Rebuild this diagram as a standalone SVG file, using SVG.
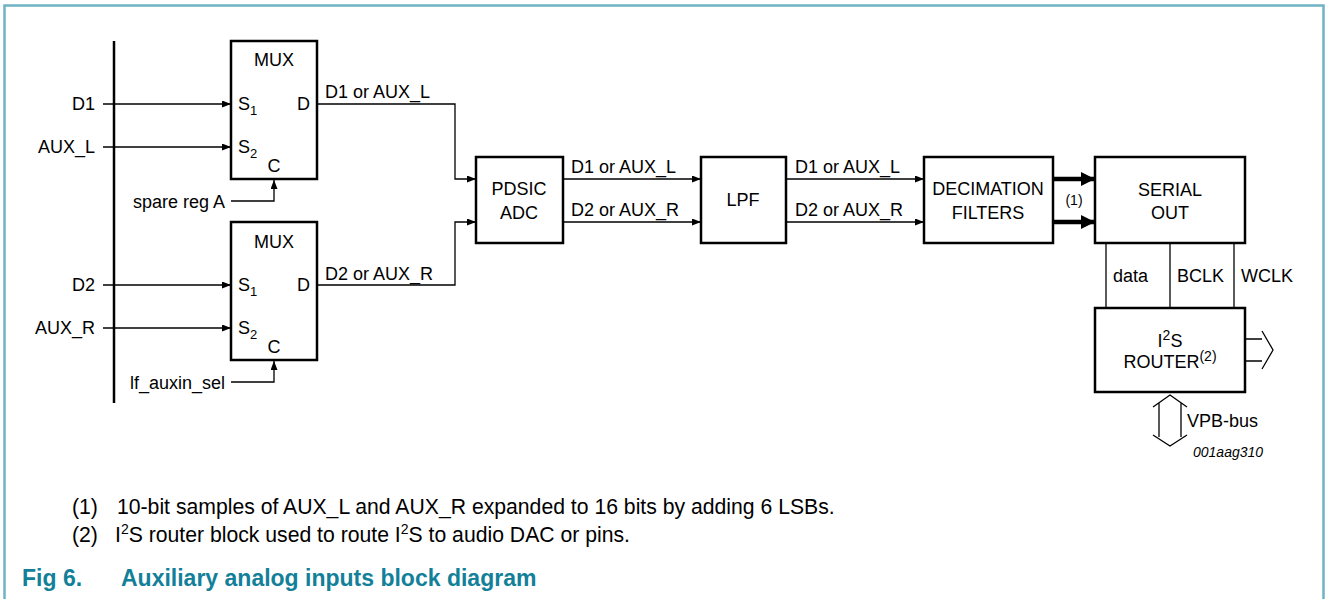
<svg xmlns="http://www.w3.org/2000/svg" width="1326" height="599" viewBox="0 0 1326 599">
<defs>
<marker id="ah" markerUnits="userSpaceOnUse" markerWidth="10" markerHeight="8" refX="9" refY="3.5" orient="auto"><path d="M0,0 L9,3.5 L0,7 z" fill="#000"/></marker>
<marker id="ahb" markerUnits="userSpaceOnUse" markerWidth="15" markerHeight="15" refX="14" refY="7" orient="auto"><path d="M0,0 L14,7 L0,14 z" fill="#000"/></marker>
<style>
text{font-family:"Liberation Sans",Arial,sans-serif;fill:#000}
.t{font-size:18px}
.m{text-anchor:middle}
.e{text-anchor:end}
.sub{font-size:13px}
.box{fill:#fff;stroke:#000;stroke-width:2.5}
.ln{fill:none;stroke:#000;stroke-width:1.3}
.arr{fill:none;stroke:#000;stroke-width:1.3;marker-end:url(#ah)}
.thick{fill:none;stroke:#000;stroke-width:4.5;marker-end:url(#ahb)}
.fn{font-size:21.2px}
.fig{font-size:23px;font-weight:bold;fill:#13809a}
</style>
</defs>
<rect width="1326" height="599" fill="#fff"/>
<path d="M4.5,599 V5.5 H1323.5 V599" fill="none" stroke="#6fb3c4" stroke-width="2.5"/>

<g id="bus"><line x1="114" y1="41" x2="114" y2="403" stroke="#000" stroke-width="2.5"/></g>

<g id="connectors">
<line class="arr" x1="103" y1="104" x2="231" y2="104"/>
<line class="arr" x1="103" y1="147" x2="231" y2="147"/>
<line class="arr" x1="103" y1="285" x2="231" y2="285"/>
<line class="arr" x1="103" y1="328" x2="231" y2="328"/>
<polyline class="arr" points="231,201 274,201 274,180"/>
<polyline class="arr" points="231,382 274,382 274,361"/>
<polyline class="arr" points="317,104 455,104 455,179 476,179"/>
<polyline class="arr" points="317,285 455,285 455,222 476,222"/>
<line class="arr" x1="563" y1="179" x2="701" y2="179"/>
<line class="arr" x1="563" y1="222" x2="701" y2="222"/>
<line class="arr" x1="786" y1="179" x2="924" y2="179"/>
<line class="arr" x1="786" y1="222" x2="924" y2="222"/>
<line class="thick" x1="1053" y1="179" x2="1095" y2="179"/>
<line class="thick" x1="1053" y1="222" x2="1095" y2="222"/>
<line class="ln" x1="1106" y1="243" x2="1106" y2="308"/>
<line class="ln" x1="1170" y1="243" x2="1170" y2="308"/>
<line class="ln" x1="1234" y1="243" x2="1234" y2="308"/>
<path class="ln" d="M1245,339 H1262 M1245,361 H1262 M1262,331 L1273,350 L1262,369"/>
<path class="ln" d="M1159,403 V437 M1181,403 V437 M1153,407 L1170,395 L1187,407 M1153,435 L1170,446 L1187,435"/>
</g>

<g id="labels">
<text class="t e" x="95" y="110">D1</text>
<text class="t e" x="95" y="153">AUX_L</text>
<text class="t e" x="95" y="291">D2</text>
<text class="t e" x="95" y="334">AUX_R</text>
<text class="t e" x="225" y="208">spare reg A</text>
<text class="t e" x="225" y="389">lf_auxin_sel</text>
<text class="t" x="325" y="98">D1 or AUX_L</text>
<text class="t" x="325" y="280">D2 or AUX_R</text>
<text class="t" x="571" y="173">D1 or AUX_L</text>
<text class="t" x="571" y="216">D2 or AUX_R</text>
<text class="t" x="795" y="173">D1 or AUX_L</text>
<text class="t" x="795" y="216">D2 or AUX_R</text>
<text class="m" x="1074" y="205" font-size="14">(1)</text>
<text class="t" x="1113" y="282">data</text>
<text class="t" x="1177" y="282">BCLK</text>
<text class="t" x="1241" y="282">WCLK</text>
<text class="t" x="1187" y="427">VPB-bus</text>
<text x="1193" y="457" font-size="14" font-style="italic">001aag310</text>
</g>

<g id="mux1">
<rect class="box" x="231" y="41" width="86" height="138"/>
<text class="t m" x="274" y="66">MUX</text>
<text class="t" x="238" y="110">S<tspan class="sub" dy="5">1</tspan></text>
<text class="t" x="297" y="110">D</text>
<text class="t" x="238" y="153">S<tspan class="sub" dy="5">2</tspan></text>
<text class="t m" x="274" y="172">C</text>
</g>

<g id="mux2">
<rect class="box" x="231" y="222" width="86" height="138"/>
<text class="t m" x="274" y="248">MUX</text>
<text class="t" x="238" y="291">S<tspan class="sub" dy="5">1</tspan></text>
<text class="t" x="297" y="291">D</text>
<text class="t" x="238" y="334">S<tspan class="sub" dy="5">2</tspan></text>
<text class="t m" x="274" y="353">C</text>
</g>

<g id="pdsic">
<rect class="box" x="476" y="157" width="87" height="86"/>
<text class="t m" x="519" y="195">PDSIC</text>
<text class="t m" x="519" y="219">ADC</text>
</g>

<g id="lpf">
<rect class="box" x="701" y="157" width="85" height="86"/>
<text class="t m" x="743" y="206">LPF</text>
</g>

<g id="decim">
<rect class="box" x="924" y="157" width="129" height="86"/>
<text class="t m" x="988" y="195">DECIMATION</text>
<text class="t m" x="988" y="219">FILTERS</text>
</g>

<g id="serial">
<rect class="box" x="1095" y="157" width="150" height="86"/>
<text class="t m" x="1170" y="196">SERIAL</text>
<text class="t m" x="1170" y="219">OUT</text>
</g>

<g id="router">
<rect class="box" x="1095" y="308" width="150" height="84"/>
<text class="t m" x="1170" y="347">I<tspan font-size="14" dy="-7">2</tspan><tspan dy="7">S</tspan></text>
<text class="t m" x="1170" y="368">ROUTER<tspan font-size="14" dy="-7">(2)</tspan></text>
</g>

<g id="notes">
<text class="fn" x="72" y="514">(1)</text>
<text class="fn" x="117" y="514">10-bit samples of AUX_L and AUX_R expanded to 16 bits by adding 6 LSBs.</text>
<text class="fn" x="72" y="542">(2)</text>
<text class="fn" x="115" y="542">I<tspan font-size="14" dy="-8">2</tspan><tspan dy="8">S router block used to route I</tspan><tspan font-size="14" dy="-8">2</tspan><tspan dy="8">S to audio DAC or pins.</tspan></text>
<text class="fig" x="22" y="586">Fig 6.</text>
<text class="fig" x="121" y="586">Auxiliary analog inputs block diagram</text>
</g>
</svg>
